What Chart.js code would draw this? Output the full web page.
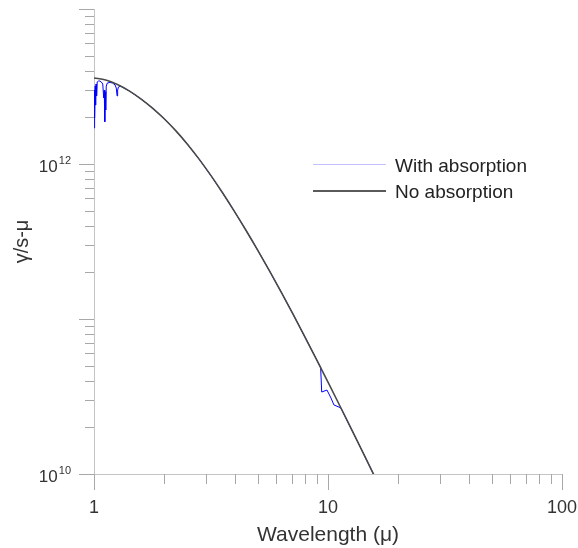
<!DOCTYPE html>
<html><head><meta charset="utf-8">
<script src="https://cdn.jsdelivr.net/npm/chart.js@4/dist/chart.umd.min.js"></script>
<style>
html,body{margin:0;padding:0;background:#fff;}
#wrap{position:relative;width:578px;height:548px;overflow:hidden;}
canvas{position:absolute;left:0;top:0;}
.leg{position:absolute;font-family:"Liberation Sans",Arial,sans-serif;font-size:19px;color:#222;line-height:20px;white-space:nowrap;}
.ll{position:absolute;height:0;}
</style></head><body>
<div id="wrap">
<canvas id="c" width="578" height="548"></canvas>
<div class="ll" style="left:313px;top:164px;width:73px;border-top:1px solid rgba(80,80,255,0.35)"></div>
<div class="leg" style="left:395px;top:156px">With absorption</div>
<div class="ll" style="left:313px;top:190px;width:73px;border-top:2px solid #5a5a5a"></div>
<div class="leg" style="left:395px;top:182px">No absorption</div>
</div>
<script>
// ---- data ----
const seriesNames = ["With absorption", "No absorption"];

// No absorption (black curve): wavelength (μ) and photon radiance (γ/s-μ)
const noAbsWavelength = [1.000, 1.122, 1.259, 1.413, 1.585, 1.778, 1.995, 2.239, 2.512, 2.818, 3.162, 3.548, 3.981, 4.467, 5.012, 5.623, 6.310, 7.079, 7.943, 8.913, 10.00, 11.22, 12.59, 14.13, 15.85, 17.78];
const noAbsValues = [3.589e12, 3.487e12, 3.261e12, 2.965e12, 2.635e12, 2.296e12, 1.959e12, 1.636e12, 1.338e12, 1.071e12, 8.41e11, 6.495e11, 4.946e11, 3.723e11, 2.773e11, 2.043e11, 1.491e11, 1.078e11, 7.735e10, 5.518e10, 3.915e10, 2.767e10, 1.949e10, 1.369e10, 9.59e9, 6.70e9];

// With absorption (blue curve)
const absWavelength = [1.000, 1.004, 1.008, 1.012, 1.016, 1.020, 1.026, 1.032, 1.045, 1.060, 1.075, 1.090, 1.100, 1.106, 1.112, 1.117, 1.122, 1.128, 1.140, 1.170, 1.200, 1.230, 1.245, 1.255, 1.262, 1.272, 1.300, 1.413, 1.585, 1.778, 1.995, 2.239, 2.512, 2.818, 3.162, 3.548, 3.981, 4.467, 5.012, 5.623, 6.310, 7.079, 7.943, 8.913, 9.30, 9.40, 9.90, 10.30, 10.60, 11.35, 12.59, 14.13, 15.85, 17.78];
const absValues = [1.71e12, 3.00e12, 1.98e12, 3.18e12, 2.40e12, 3.28e12, 2.75e12, 3.38e12, 3.43e12, 3.43e12, 3.38e12, 3.28e12, 2.67e12, 3.00e12, 1.87e12, 2.92e12, 2.23e12, 3.18e12, 3.33e12, 3.36e12, 3.33e12, 3.24e12, 3.09e12, 2.75e12, 3.00e12, 3.14e12, 3.18e12, 2.965e12, 2.635e12, 2.296e12, 1.959e12, 1.636e12, 1.338e12, 1.071e12, 8.41e11, 6.495e11, 4.946e11, 3.723e11, 2.773e11, 2.043e11, 1.491e11, 1.078e11, 7.735e10, 5.518e10, 4.87e10, 3.38e10, 3.48e10, 3.09e10, 2.79e10, 2.67e10, 1.949e10, 1.369e10, 9.59e9, 6.70e9];

// axis ticks
const xTickValues = [1,2,3,4,5,6,7,8,9,10,20,30,40,50,60,70,80,90,100];
const xTickLabels = {1:"1", 10:"10", 100:"100"};
const yTickValues = [1e10,2e10,3e10,4e10,5e10,6e10,7e10,8e10,9e10,1e11,2e11,3e11,4e11,5e11,6e11,7e11,8e11,9e11,1e12,2e12,3e12,4e12,5e12,6e12,7e12,8e12,9e12,1e13];
const yLabelExponents = [10, 12];

const FONT = '"Liberation Sans", Arial, sans-serif';
const AXIS_COLOR = '#c4c4c4';
const TICK_COLOR = '#a8a8a8';
const TEXT_COLOR = '#333';

const isMajor = v => Math.abs(Math.log10(v) - Math.round(Math.log10(v))) < 1e-9;

const tickPlugin = {
  id: 'tickPlugin',
  afterDraw(chart) {
    const ctx = chart.ctx;
    const xs = chart.scales.x, ys = chart.scales.y;
    const area = chart.chartArea;
    ctx.save();
    ctx.strokeStyle = TICK_COLOR;
    ctx.lineWidth = 1;
    for (const v of yTickValues) {
      const p = Math.round(ys.getPixelForValue(v)) + 0.5;
      const len = isMajor(v) ? 15 : 9;
      ctx.beginPath();
      ctx.moveTo(area.left - len, p);
      ctx.lineTo(area.left, p);
      ctx.stroke();
    }
    for (const v of xTickValues) {
      const p = Math.round(xs.getPixelForValue(v)) + 0.5;
      const len = isMajor(v) ? 16 : 10;
      ctx.beginPath();
      ctx.moveTo(p, area.bottom);
      ctx.lineTo(p, area.bottom + len);
      ctx.stroke();
    }
    ctx.fillStyle = TEXT_COLOR;
    for (const e of yLabelExponents) {
      const p = ys.getPixelForValue(Math.pow(10, e));
      const right = area.left - 23;
      ctx.font = '11px ' + FONT;
      ctx.textAlign = 'right';
      ctx.textBaseline = 'alphabetic';
      const ew = ctx.measureText(String(e)).width;
      ctx.fillText(String(e), right, p + 0);
      ctx.font = '17px ' + FONT;
      ctx.fillText('10', right - ew - 1, p + 8);
    }
    ctx.restore();
  }
};

new Chart(document.getElementById('c'), {
  type: 'line',
  data: {
    datasets: [
      {
        label: seriesNames[0],
        data: absWavelength.map((w, i) => ({x: w, y: absValues[i]})),
        borderColor: '#0000ff',
        borderWidth: 1,
        pointRadius: 0,
        tension: 0,
        order: 2
      },
      {
        label: seriesNames[1],
        data: noAbsWavelength.map((w, i) => ({x: w, y: noAbsValues[i]})),
        borderColor: '#4a4a4a',
        borderWidth: 1.6,
        pointRadius: 0,
        cubicInterpolationMode: 'monotone',
        order: 1
      }
    ]
  },
  options: {
    responsive: false,
    animation: false,
    devicePixelRatio: 1,
    layout: {padding: {top: 9, right: 16, left: 0, bottom: 0}},
    plugins: {legend: {display: false}, tooltip: {enabled: false}},
    scales: {
      x: {
        type: 'logarithmic',
        position: 'bottom',
        min: 1, max: 100,
        afterFit: s => { s.height = 74; s.paddingLeft = 0; s.paddingRight = 0; },
        afterBuildTicks: s => { s.ticks = xTickValues.map(v => ({value: v})); },
        grid: {display: false, drawTicks: false},
        border: {display: true, color: AXIS_COLOR, width: 1},
        ticks: {
          autoSkip: false, maxRotation: 0, padding: 23,
          color: TEXT_COLOR, font: {family: FONT, size: 18},
          callback: v => xTickLabels[v] || ''
        },
        title: {display: true, text: 'Wavelength (μ)', color: TEXT_COLOR, font: {family: FONT, size: 21}, padding: {top: 0, bottom: 0}}
      },
      y: {
        type: 'logarithmic',
        position: 'left',
        min: 1e10, max: 1e13,
        afterFit: s => { s.width = 94; s.paddingTop = 0; s.paddingBottom = 0; },
        afterBuildTicks: s => { s.ticks = yTickValues.map(v => ({value: v})); },
        grid: {display: false, drawTicks: false},
        border: {display: true, color: AXIS_COLOR, width: 1},
        ticks: {display: false},
        title: {display: true, text: 'γ/s-μ', color: TEXT_COLOR, font: {family: FONT, size: 20}, padding: {top: 10, bottom: 0}}
      }
    }
  },
  plugins: [tickPlugin]
});
</script>
</body></html>
